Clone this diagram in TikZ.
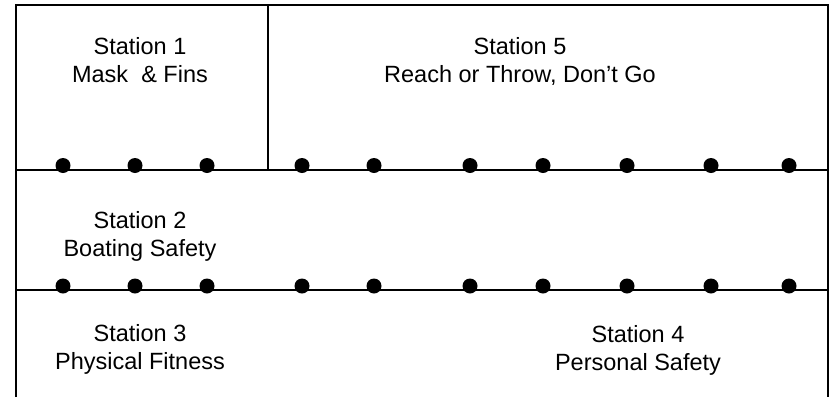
\documentclass[tikz,border=0pt]{standalone}
\usepackage{fontspec}
\setmainfont{Liberation Sans}
\tikzset{
  station/.style={align=center, anchor=base, inner sep=0pt,
    font=\fontsize{23.5}{28}\selectfont},
  post/.style={fill=black}
}
\begin{document}
\begin{tikzpicture}[x=1pt,y=-1pt,line width=1.6pt]
\useasboundingbox (0,0) rectangle (831,397);

% frame, open at the bottom
\draw[line width=2pt] (16,397)--(16,5)--(828,5)--(828,397);

\draw[-]  (16,170)--(828,170);
\draw[-]  (16,290)--(828,290);
\draw[-]  (268,5)--(268,170);

% posts along the two lines
\foreach \x in {63,135,207,302,374,470,543,627,711,789} {
  \fill[post] (\x,165.5) circle (7.5pt);
  \fill[post] (\x,286) circle (7.5pt);
}

% base anchor sits on the last line
\node [station] (st1) at (140,82) {Station 1\\Mask\ \ \& Fins};
\node [station] (st5) at (520,82) {Station 5\\Reach or Throw, Don’t Go};
\node [station] (st2) at (140,256) {Station 2\\Boating Safety};
\node [station] (st3) at (140,369) {Station 3\\Physical Fitness};
\node [station] (st4) at (638,370) {Station 4\\Personal Safety};
\end{tikzpicture}
\end{document}
